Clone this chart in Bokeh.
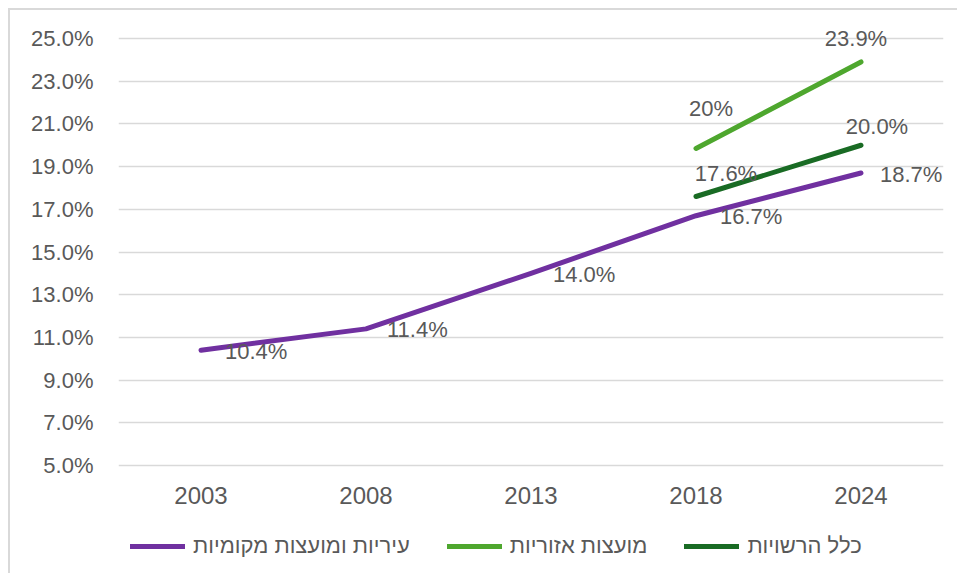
from bokeh.plotting import figure
from bokeh.models import (FactorRange, Range1d, FixedTicker, PrintfTickFormatter, Legend,
                          LegendItem, LabelSet, ColumnDataSource)
from bokeh.core.properties import value
from bokeh.embed import file_html
from bokeh.resources import INLINE

# ---- data ----
years = ["2003", "2008", "2013", "2018", "2024"]
cities_name = "עיריות ומועצות מקומיות"
cities_vals = [10.4, 11.4, 14.0, 16.7, 18.7]
cities_labels = ["10.4%", "11.4%", "14.0%", "16.7%", "18.7%"]

regional_name = "מועצות אזוריות"
regional_years = ["2018", "2024"]
regional_vals = [19.85, 23.9]
regional_labels = ["20%", "23.9%"]

all_name = "כלל הרשויות"
all_years = ["2018", "2024"]
all_vals = [17.6, 20.0]
all_labels = ["17.6%", "20.0%"]

y_ticks = [5, 7, 9, 11, 13, 15, 17, 19, 21, 23, 25]

# ---- style / layout ----
FONT = "Liberation Sans"
TXT = "#595959"
GRID = "#d9d9d9"
C_CITIES = "#7030A0"
C_REGIONAL = "#4EA72E"
C_ALL = "#196B24"

Y_MIN, Y_MAX = y_ticks[0], y_ticks[-1]
GRID_H = 427          # pixels between lowest and highest gridline
TOP_PAD = 28          # pixels of frame above the top gridline
BOTTOM_PAD = 108      # pixels of frame below the lowest gridline (axis labels + legend)
FRAME_H = GRID_H + TOP_PAD + BOTTOM_PAD
ppu = GRID_H / (Y_MAX - Y_MIN)
y_range = Range1d(Y_MIN - BOTTOM_PAD / ppu, Y_MAX + TOP_PAD / ppu)

p = figure(frame_width=825, frame_height=FRAME_H, x_range=FactorRange(factors=years, range_padding=0),
           y_range=y_range, output_backend="svg", toolbar_location=None,
           min_border_left=108, min_border_top=0, min_border_right=14, min_border_bottom=0)
p.margin = (8, 0, 0, 8)
p.styles = {"border-left": "2px solid #d9d9d9", "border-top": "2px solid #d9d9d9"}
p.outline_line_color = None
p.background_fill_color = "white"
p.border_fill_color = "white"

p.xgrid.grid_line_color = None
p.ygrid.grid_line_color = GRID
p.ygrid.grid_line_width = 1.5
p.ygrid.ticker = FixedTicker(ticks=y_ticks)

p.yaxis.ticker = FixedTicker(ticks=y_ticks)
p.yaxis.formatter = PrintfTickFormatter(format="%.1f%%")
p.xaxis.fixed_location = Y_MIN
for ax in (p.xaxis[0], p.yaxis[0]):
    ax.axis_line_color = None
    ax.major_tick_line_color = None
    ax.minor_tick_line_color = None
    ax.major_label_text_color = TXT
    ax.major_label_text_font = FONT
p.yaxis.major_label_text_font_size = "22px"
p.yaxis.major_label_standoff = 19
p.xaxis.major_label_text_font_size = "24px"
p.xaxis.major_label_standoff = 15

r_c = p.line(years, cities_vals, line_color=C_CITIES, line_width=5, line_cap="round", line_join="round")
r_r = p.line(regional_years, regional_vals, line_color=C_REGIONAL, line_width=5, line_cap="round", line_join="round")
r_a = p.line(all_years, all_vals, line_color=C_ALL, line_width=5, line_cap="round", line_join="round")

# data labels
def add_labels(xs, ys, texts, align, dx, dy):
    n = len(xs)
    dx = dx if isinstance(dx, list) else [dx] * n
    dy = dy if isinstance(dy, list) else [dy] * n
    src = ColumnDataSource(dict(x=xs, y=ys, t=texts, dx=dx, dy=dy))
    p.add_layout(LabelSet(x="x", y="y", text="t", source=src, x_offset="dx", y_offset="dy",
                          text_align=align, text_baseline="middle", text_color=TXT,
                          text_font=value(FONT), text_font_size="22px"))

add_labels(years, cities_vals, cities_labels, "left", [24, 21, 22, 24, 19], -1)
add_labels(regional_years, regional_vals, regional_labels, "center", [15, -5], [40, 23])
add_labels(all_years, all_vals, all_labels, "center", [30, 16], [23, 19])

legend = Legend(items=[LegendItem(label=cities_name, renderers=[r_c]),
                       LegendItem(label=regional_name, renderers=[r_r]),
                       LegendItem(label=all_name, renderers=[r_a])],
                orientation="horizontal", location=(12, 14),
                label_text_font=FONT, label_text_font_size="22px", label_text_color=TXT,
                glyph_width=55, glyph_height=24, label_standoff=8, spacing=37,
                margin=0, padding=0, border_line_color=None, background_fill_alpha=0)
p.add_layout(legend)

open("out.html", "w").write(file_html(p, INLINE))
